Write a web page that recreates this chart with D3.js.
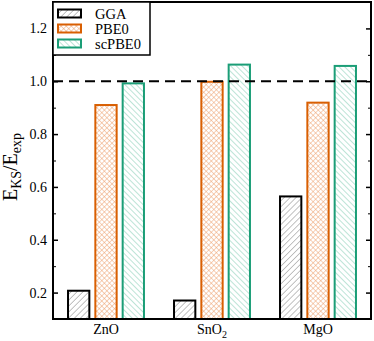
<!DOCTYPE html>
<html><head><meta charset="utf-8">
<script src="https://cdn.jsdelivr.net/npm/d3@7"></script>
<style>body{margin:0;background:#fff}svg{display:block}</style>
</head><body>
<script>
const categories = ["ZnO", "SnO2", "MgO"];
const seriesNames = ["GGA", "PBE0", "scPBE0"];
const gga = [0.207, 0.170, 0.564];
const pbe0 = [0.910, 0.998, 0.919];
const scpbe0 = [0.992, 1.063, 1.058];
const yTicks = [0.2, 0.4, 0.6, 0.8, 1.0, 1.2];
const yMinorTicks = [0.3, 0.5, 0.7, 0.9, 1.1];
const refValue = 1.0;

const W = 374, H = 341;
const m = {left: 53, right: 3, top: 2, bottom: 22};
const svg = d3.select("body").append("svg").attr("width", W).attr("height", H);
const font = "'Liberation Serif', 'Times New Roman', serif";

const colors = {GGA: "#000000", PBE0: "#d95f02", scPBE0: "#1b9e77"};
const defs = svg.append("defs");
const p1 = defs.append("pattern").attr("id", "hGGA").attr("patternUnits", "userSpaceOnUse")
  .attr("width", 4.2).attr("height", 4.2).attr("patternTransform", "rotate(45)");
p1.append("line").attr("x1", 0).attr("y1", 0).attr("x2", 0).attr("y2", 4.2)
  .attr("stroke", "#666").attr("stroke-width", 0.8);
const p2 = defs.append("pattern").attr("id", "hPBE0").attr("patternUnits", "userSpaceOnUse")
  .attr("width", 3.6).attr("height", 3.6).attr("patternTransform", "rotate(45)");
p2.append("line").attr("x1", 0).attr("y1", 0).attr("x2", 0).attr("y2", 3.6)
  .attr("stroke", "#eb9a63").attr("stroke-width", 0.9);
p2.append("line").attr("x1", 0).attr("y1", 0).attr("x2", 3.6).attr("y2", 0)
  .attr("stroke", "#eb9a63").attr("stroke-width", 0.9);
const p3 = defs.append("pattern").attr("id", "hscPBE0").attr("patternUnits", "userSpaceOnUse")
  .attr("width", 4).attr("height", 4).attr("patternTransform", "rotate(-45)");
p3.append("line").attr("x1", 0).attr("y1", 0).attr("x2", 0).attr("y2", 4)
  .attr("stroke", "#6cc3a6").attr("stroke-width", 0.9);

const x0 = d3.scaleBand().domain(categories).range([m.left, W - m.right]).paddingInner(0).paddingOuter(0);
const x1 = d3.scaleBand().domain(seriesNames).range([0, x0.bandwidth()]).paddingInner(0.22).paddingOuter(0.55);
const y = d3.scaleLinear().domain([0.1, 1.3]).range([H - m.bottom, m.top]);

const values = {GGA: gga, PBE0: pbe0, scPBE0: scpbe0};

const g = svg.append("g");
categories.forEach((c, i) => {
  seriesNames.forEach(s => {
    const v = values[s][i];
    g.append("rect")
      .attr("x", x0(c) + x1(s))
      .attr("y", y(v))
      .attr("width", x1.bandwidth())
      .attr("height", y(0.1) - y(v))
      .attr("fill", `url(#h${s})`)
      .attr("stroke", colors[s])
      .attr("stroke-width", 2);
  });
});

svg.append("line").attr("x1", m.left).attr("x2", W - m.right)
  .attr("y1", y(refValue)).attr("y2", y(refValue))
  .attr("stroke", "#000").attr("stroke-width", 2).attr("stroke-dasharray", "10,6");

const yAxisL = d3.axisLeft(y).tickValues(yTicks).tickSize(-5).tickPadding(6).tickFormat(d3.format(".1f"));
const gy = svg.append("g").attr("transform", `translate(${m.left},0)`).call(yAxisL);
gy.select(".domain").remove();
gy.selectAll("text").attr("font-family", font).attr("font-size", 14).attr("fill", "#000");
gy.selectAll("line").attr("stroke-width", 1.5);
const gyMin = svg.append("g").attr("transform", `translate(${m.left},0)`)
  .call(d3.axisLeft(y).tickValues(yMinorTicks).tickSize(-3).tickFormat(""));
gyMin.select(".domain").remove();
const gyR = svg.append("g").attr("transform", `translate(${W - m.right},0)`)
  .call(d3.axisRight(y).tickValues(yTicks).tickSize(-5).tickFormat(""));
gyR.select(".domain").remove();
gyR.selectAll("line").attr("stroke-width", 1.5);
const gyRMin = svg.append("g").attr("transform", `translate(${W - m.right},0)`)
  .call(d3.axisRight(y).tickValues(yMinorTicks).tickSize(-3).tickFormat(""));
gyRMin.select(".domain").remove();

const gx = svg.append("g").attr("transform", `translate(0,${H - m.bottom})`)
  .call(d3.axisBottom(x0).tickSize(0).tickPadding(6).tickFormat(""));
gx.select(".domain").remove();
categories.forEach(c => {
  const t = svg.append("text").attr("x", x0(c) + x0.bandwidth() / 2).attr("y", 334)
    .attr("text-anchor", "middle").attr("font-family", font).attr("font-size", 14);
  const mm = c.match(/^([A-Za-z]+?)(\d+)$/);
  if (mm) {
    t.append("tspan").text(mm[1]);
    t.append("tspan").attr("font-size", 10).attr("dy", 4).text(mm[2]);
  } else t.text(c);
});

svg.append("rect").attr("x", m.left).attr("y", m.top)
  .attr("width", W - m.right - m.left).attr("height", H - m.bottom - m.top)
  .attr("fill", "none").attr("stroke", "#000").attr("stroke-width", 2);

const yl = svg.append("text").attr("transform", `translate(17,167) rotate(-90)`)
  .attr("text-anchor", "middle").attr("font-family", font).attr("font-size", 20);
yl.append("tspan").text("E");
yl.append("tspan").attr("font-size", 14).attr("dy", 4).text("KS");
yl.append("tspan").attr("dy", -4).text("/E");
yl.append("tspan").attr("font-size", 14).attr("dy", 4).text("exp");

const lg = svg.append("g");
lg.append("rect").attr("x", m.left).attr("y", m.top).attr("width", 97).attr("height", 53)
  .attr("fill", "#fff").attr("stroke", "#000").attr("stroke-width", 1.5);
seriesNames.forEach((s, i) => {
  const yy = 9.5 + i * 15;
  lg.append("rect").attr("x", 58).attr("y", yy).attr("width", 23).attr("height", 8)
    .attr("fill", `url(#h${s})`).attr("stroke", colors[s]).attr("stroke-width", 2);
  lg.append("text").attr("x", 95).attr("y", yy + 9.5).attr("font-family", font)
    .attr("font-size", 14.5).text(s);
});
</script>
</body></html>
